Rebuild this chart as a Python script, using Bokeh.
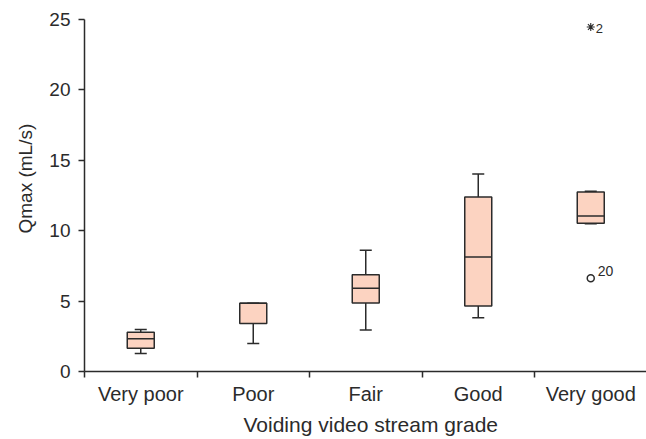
import numpy as np
from bokeh.plotting import figure
from bokeh.models import Range1d, FixedTicker, ColumnDataSource, Title
from bokeh.core.properties import value
from bokeh.embed import file_html
from bokeh.resources import INLINE

categories = ["Very poor", "Poor", "Fair", "Good", "Very good"]
lower = [1.28, 1.99, 2.95, 3.82, 10.5]
q1 = [1.65, 3.41, 4.87, 4.65, 10.53]
median = [2.32, 4.85, 5.91, 8.13, 11.04]
q3 = [2.79, 4.85, 6.87, 12.39, 12.75]
upper = [2.98, 4.85, 8.61, 14.03, 12.8]

outlier_cat = ["Very good"]
outlier_val = [6.62]
outlier_lab = ["20"]
extreme_cat = ["Very good"]
extreme_val = [24.47]
extreme_lab = ["2"]

y_ticks = [0, 5, 10, 15, 20, 25]
x_title = "Voiding video stream grade"
y_title = "Qmax (mL/s)"

FONT = "Liberation Sans"
INK = "#2b2b2b"
FILL = "#fcd3c1"

W, H = 646, 439
BL, BT, BB = 84, 19, 68
frame_w = W - BL
cat_px = 112.5
YMAX = 25

idx = {c: i for i, c in enumerate(categories)}
xc = np.arange(len(categories)) + 0.5
box_w = 0.24
cap_w = 0.107

src = ColumnDataSource(dict(x=xc, lower=lower, q1=q1, median=median, q3=q3, upper=upper,
                            cl=xc - cap_w / 2, cr=xc + cap_w / 2,
                            bl=xc - box_w / 2, br=xc + box_w / 2))

p = figure(width=W, height=H, output_backend="svg", toolbar_location=None,
           x_range=Range1d(0, frame_w / cat_px), y_range=Range1d(0, YMAX),
           min_border_left=BL, min_border_right=0, min_border_top=BT, min_border_bottom=BB)
p.outline_line_color = None
p.xgrid.visible = False
p.ygrid.visible = False

# whiskers
p.segment(x0="x", y0="q3", x1="x", y1="upper", source=src, line_color=INK, line_width=1.5)
p.segment(x0="x", y0="lower", x1="x", y1="q1", source=src, line_color=INK, line_width=1.5)
p.segment(x0="cl", y0="upper", x1="cr", y1="upper", source=src, line_color=INK, line_width=1.5)
p.segment(x0="cl", y0="lower", x1="cr", y1="lower", source=src, line_color=INK, line_width=1.5)
# boxes
p.quad(left="bl", right="br", bottom="q1", top="q3", source=src,
       fill_color=FILL, line_color=INK, line_width=1.5)
p.segment(x0="bl", y0="median", x1="br", y1="median", source=src, line_color=INK, line_width=1.5)

# outliers
ox = [idx[c] + 0.5 for c in outlier_cat]
p.scatter(ox, outlier_val, marker="circle", size=7, fill_color="white",
          line_color=INK, line_width=1.5)
p.text(ox, outlier_val, text=outlier_lab, x_offset=7, y_offset=-7,
       text_font=value(FONT), text_font_size="14px", text_color=INK,
       text_baseline="alphabetic", text_align="left")
ex = [idx[c] + 0.5 for c in extreme_cat]
p.scatter(ex, extreme_val, marker="asterisk", size=8, line_color=INK, line_width=1.1)
p.text(ex, extreme_val, text=extreme_lab, x_offset=5, y_offset=2,
       text_font=value(FONT), text_font_size="13px", text_color=INK,
       text_baseline="alphabetic", text_align="left")

# x axis
xa = p.xaxis[0]
xa.ticker = FixedTicker(ticks=list(xc), minor_ticks=list(range(len(categories) + 1)))
xa.major_label_overrides = {float(x): c for x, c in zip(xc, categories)}
xa.major_tick_out = 0
xa.major_tick_in = 0
xa.minor_tick_out = 6
xa.minor_tick_in = 0
xa.minor_tick_line_color = INK
xa.minor_tick_line_width = 1.5
xa.axis_line_color = INK
xa.axis_line_width = 1.5
xa.major_label_text_font = FONT
xa.major_label_text_font_size = "20px"
xa.major_label_text_color = INK
xa.major_label_standoff = 5

# y axis
ya = p.yaxis[0]
ya.ticker = FixedTicker(ticks=y_ticks, minor_ticks=[])
ya.major_tick_out = 6
ya.major_tick_in = 0
ya.major_tick_line_color = INK
ya.major_tick_line_width = 1.5
ya.axis_line_color = INK
ya.axis_line_width = 1.5
ya.major_label_text_font = FONT
ya.major_label_text_font_size = "19px"
ya.major_label_text_color = INK
ya.major_label_standoff = 8

# axis titles as side titles so they can be offset like the original
p.add_layout(Title(text=x_title, align="left", offset=159, text_font=FONT,
                   text_font_size="21px", text_font_style="normal", text_color=INK,
                   standoff=6), "below")
p.add_layout(Title(text=y_title, align="left", offset=138, text_font=FONT,
                   text_font_size="19px", text_font_style="normal", text_color=INK,
                   standoff=21), "left")

open("out.html", "w").write(file_html(p, INLINE))
